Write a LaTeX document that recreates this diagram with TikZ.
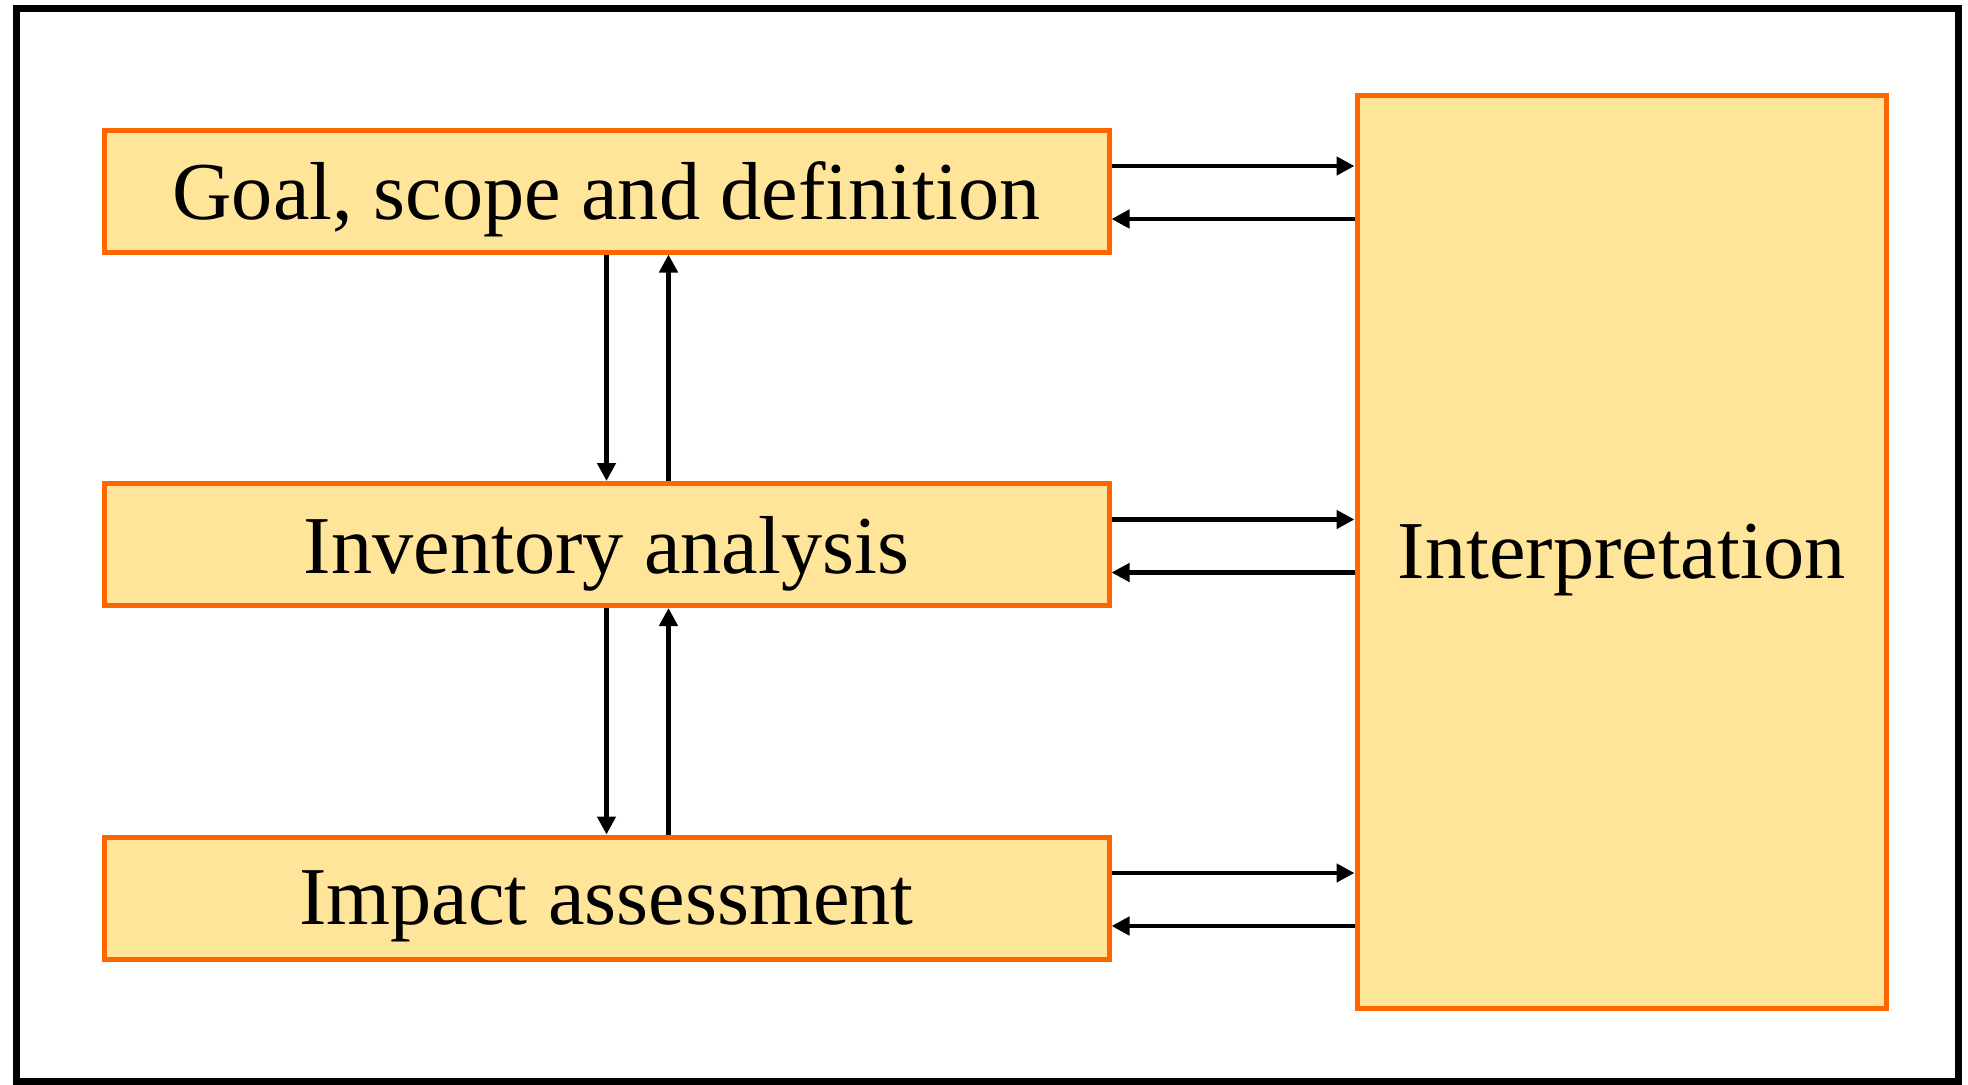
\documentclass[tikz,border=0pt]{standalone}
\usepackage{fontspec}
\setmainfont{Liberation Serif}
\definecolor{boxfill}{RGB}{255, 229, 153}
\definecolor{boxline}{RGB}{255, 102, 0}
\usetikzlibrary{arrows.meta, positioning, calc}

\begin{document}
\begin{tikzpicture}[
    stagebox/.style={draw=boxline, fill=boxfill, line width=0.5mm, minimum width=10.05cm, minimum height=1.22cm, inner sep=0pt, text depth=0pt, font=\fontsize{23.4}{28}\selectfont},
    link/.style={line width=0.45mm, -{Triangle[length=1.8mm, width=1.8mm]}}
  ]
  \useasboundingbox (0, 0) rectangle (19.68, 10.84);
  % Frame
  \draw[line width=0.7mm] (0.16, 0.03) rectangle (19.58, 10.76);

  % Stages
  \node[stagebox] (goal) at (6.065, 8.93) {Goal, scope and definition};
  \node[stagebox] (inv) at (6.065, 5.395) {Inventory analysis};
  \node[stagebox] (impact) at (6.065, 1.86) {Impact assessment};
  \node[stagebox, minimum width=5.29cm, minimum height=9.13cm] (interp) at (16.215, 5.325) {Interpretation};

  % Links to interpretation
  \foreach \s in {goal, inv, impact} {
    \draw[link] ([yshift=2.5mm]\s.east) -- ([yshift=2.5mm]\s.east -| interp.west);
    \draw[link] ([yshift=-2.8mm]\s.east -| interp.west) -- ([yshift=-2.8mm]\s.east);
  }

  % Links between stages
  \draw[link] (goal.south) -- (inv.north);
  \draw[link] ([xshift=6.2mm]inv.north) -- ([xshift=6.2mm]goal.south);
  \draw[link] (inv.south) -- (impact.north);
  \draw[link] ([xshift=6.2mm]impact.north) -- ([xshift=6.2mm]inv.south);
\end{tikzpicture}
\end{document}
